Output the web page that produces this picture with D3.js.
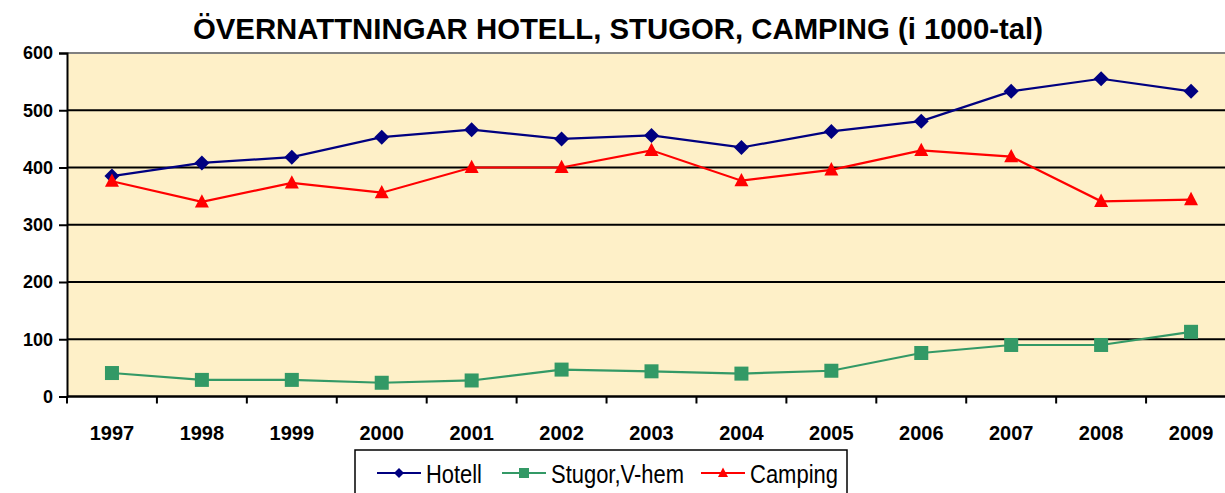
<!DOCTYPE html>
<html>
<head>
<meta charset="utf-8">
<script src="https://cdn.jsdelivr.net/npm/d3@7"></script>
<style>
  body { margin: 0; background: #fff; overflow: hidden; }
  svg { display: block; }
</style>
</head>
<body>
<script>
// data (thousands of overnight stays)
const years = ["1997", "1998", "1999", "2000", "2001", "2002", "2003", "2004", "2005", "2006", "2007", "2008", "2009"];
const hotell = [385, 408, 418, 453, 466, 450, 456, 435, 463, 481, 533, 555, 533];
const stugor = [41, 29, 29, 24, 28, 47, 44, 40, 45, 76, 90, 90, 113];
const camping = [376, 340, 373, 356, 400, 400, 430, 377, 396, 430, 419, 341, 344];
const yTicks = [0, 100, 200, 300, 400, 500, 600];

const series = [
  { name: "Hotell", values: hotell, color: "#000080", shape: "diamond" },
  { name: "Stugor,V-hem", values: stugor, color: "#339966", shape: "square" },
  { name: "Camping", values: camping, color: "#FF0000", shape: "triangle" }
];

const W = 1225, H = 493;
const plotLeft = 67, plotTop = 53, plotW = 1169, plotBottom = 396.5;
const sans = "'Liberation Sans', Arial, sans-serif";

const svg = d3.select("body").append("svg")
  .attr("width", W)
  .attr("height", H);

const x = d3.scaleBand()
  .domain(years)
  .range([plotLeft, plotLeft + plotW]);

const y = d3.scaleLinear()
  .domain([0, 600])
  .range([plotBottom, plotTop]);

// title
svg.append("text")
  .attr("x", 193)
  .attr("y", 38.5)
  .attr("font-family", sans)
  .attr("font-weight", "bold")
  .attr("font-size", 29)
  .attr("textLength", 850)
  .attr("lengthAdjust", "spacingAndGlyphs")
  .text("ÖVERNATTNINGAR HOTELL, STUGOR, CAMPING (i 1000-tal)");

// plot background
svg.append("rect")
  .attr("x", plotLeft)
  .attr("y", plotTop)
  .attr("width", plotW)
  .attr("height", plotBottom - plotTop)
  .attr("fill", "#FEF0C8");

// top border of plot area
svg.append("line")
  .attr("x1", plotLeft).attr("x2", plotLeft + plotW)
  .attr("y1", plotTop).attr("y2", plotTop)
  .attr("stroke", "#808080")
  .attr("stroke-width", 2);

// gridlines
svg.append("g")
  .selectAll("line")
  .data(yTicks.filter(d => d > 0 && d < 600))
  .enter()
  .append("line")
  .attr("x1", plotLeft).attr("x2", plotLeft + plotW)
  .attr("y1", d => y(d)).attr("y2", d => y(d))
  .attr("stroke", "#000")
  .attr("stroke-width", 2);

// y axis
const yAxis = svg.append("g")
  .attr("transform", `translate(${plotLeft},0)`)
  .call(d3.axisLeft(y).tickValues(yTicks).tickSize(8).tickPadding(6).tickFormat(d3.format("d")));
yAxis.select(".domain").attr("stroke", "#000").attr("stroke-width", 2);
yAxis.selectAll(".tick line").attr("stroke", "#000").attr("stroke-width", 2);
yAxis.selectAll("text")
  .attr("font-family", sans)
  .attr("font-weight", "bold")
  .attr("font-size", 18)
  .attr("fill", "#000");

// x axis: ticks at category boundaries
const xg = svg.append("g");
xg.append("line")
  .attr("x1", plotLeft).attr("x2", plotLeft + plotW)
  .attr("y1", plotBottom).attr("y2", plotBottom)
  .attr("stroke", "#000")
  .attr("stroke-width", 2.5);
xg.selectAll(".xtick")
  .data(years.concat(["end"]))
  .enter()
  .append("line")
  .attr("class", "xtick")
  .attr("x1", (d, i) => plotLeft + i * x.step())
  .attr("x2", (d, i) => plotLeft + i * x.step())
  .attr("y1", plotBottom).attr("y2", plotBottom + 7)
  .attr("stroke", "#000")
  .attr("stroke-width", 2);
xg.selectAll(".xlabel")
  .data(years)
  .enter()
  .append("text")
  .attr("x", d => x(d) + x.bandwidth() / 2)
  .attr("y", 440)
  .attr("text-anchor", "middle")
  .attr("font-family", sans)
  .attr("font-weight", "bold")
  .attr("font-size", 20)
  .text(d => d);

// marker shapes
function marker(g, shape, color, size) {
  const h = size / 2;
  if (shape === "diamond") {
    g.append("path").attr("d", `M0,${-h}L${h},0L0,${h}L${-h},0Z`).attr("fill", color);
  } else if (shape === "square") {
    g.append("rect").attr("x", -h).attr("y", -h).attr("width", size).attr("height", size).attr("fill", color);
  } else {
    g.append("path").attr("d", `M0,${-size * 0.55}L${h},${size * 0.4}L${-h},${size * 0.4}Z`).attr("fill", color);
  }
}

// lines + markers
const line = d3.line()
  .x((d, i) => x(years[i]) + x.bandwidth() / 2)
  .y(d => y(d));

const markerSize = { diamond: 15, square: 14, triangle: 14 };

series.forEach(s => {
  svg.append("path")
    .datum(s.values)
    .attr("d", line)
    .attr("fill", "none")
    .attr("stroke", s.color)
    .attr("stroke-width", 2.2);
  s.values.forEach((v, i) => {
    const g = svg.append("g")
      .attr("transform", `translate(${x(years[i]) + x.bandwidth() / 2},${y(v)})`);
    marker(g, s.shape, s.color, markerSize[s.shape]);
  });
});

// legend
const legend = svg.append("g");
legend.append("rect")
  .attr("x", 355)
  .attr("y", 450)
  .attr("width", 492)
  .attr("height", 50)
  .attr("fill", "#fff")
  .attr("stroke", "#000")
  .attr("stroke-width", 1.5);

const legendX = [377, 502, 701];
const legendTextW = [56, 133, 88];
series.forEach((s, i) => {
  const g = legend.append("g").attr("transform", `translate(${legendX[i]},473)`);
  g.append("line")
    .attr("x1", 0).attr("x2", 44)
    .attr("y1", 0).attr("y2", 0)
    .attr("stroke", s.color)
    .attr("stroke-width", 2);
  const m = g.append("g").attr("transform", "translate(22,0)");
  marker(m, s.shape, s.color, 10);
  g.append("text")
    .attr("x", 49)
    .attr("y", 10)
    .attr("font-family", sans)
    .attr("font-size", 26)
    .attr("textLength", legendTextW[i])
    .attr("lengthAdjust", "spacingAndGlyphs")
    .text(s.name);
});
</script>
</body>
</html>
